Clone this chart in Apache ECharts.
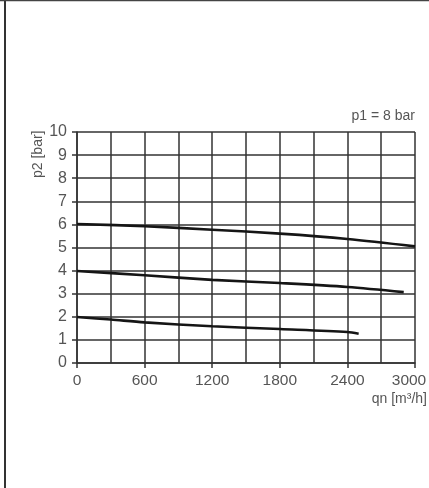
<!DOCTYPE html>
<html>
<head>
<meta charset="utf-8">
<script src="https://cdn.jsdelivr.net/npm/echarts@6/dist/echarts.min.js"></script>
<style>html,body{margin:0;padding:0;background:#fff;}#c{width:429px;height:488px;}</style>
</head>
<body>
<div id="c"></div>
<script>
var curve6 = [[0, 6.02], [600, 5.92], [1200, 5.77], [1800, 5.6], [2400, 5.37], [3000, 5.05]];
var curve4 = [[0, 3.98], [600, 3.8], [1200, 3.6], [1800, 3.46], [2400, 3.29], [2900, 3.07]];
var curve2 = [[0, 1.99], [300, 1.88], [600, 1.76], [1200, 1.59], [1800, 1.47], [2400, 1.34], [2500, 1.27]];
var xTickLabels = ['0', '600', '1200', '1800', '2400', '3000'];
var yTickLabels = ['0', '1', '2', '3', '4', '5', '6', '7', '8', '9', '10'];

var chart = echarts.init(document.getElementById('c'));
var lineStyle = {color: '#151515', width: 2.6};
function mk(d) {
  return {type: 'line', data: d, smooth: 0.3, symbol: 'none', lineStyle: lineStyle, silent: true};
}
chart.setOption({
  animation: false,
  backgroundColor: '#fff',
  grid: {left: 77, right: 14, top: 132, bottom: 125, containLabel: false, outerBoundsMode: 'none'},
  xAxis: {
    type: 'value', min: 0, max: 3000, interval: 600,
    axisLine: {show: true, lineStyle: {color: '#333', width: 1.5}},
    axisTick: {show: true, length: 5, lineStyle: {color: '#333', width: 1.5}},
    axisLabel: {color: '#555', fontSize: 15.5, fontFamily: 'Liberation Sans', margin: 10,
      formatter: function (v) {
        var i = Math.round(v / 600);
        return i === xTickLabels.length - 1 ? '{m|' + xTickLabels[i] + '}' : xTickLabels[i];
      },
      rich: {m: {color: '#555', fontSize: 15.5, fontFamily: 'Liberation Sans', padding: [0, 12, 0, 0]}}},
    splitLine: {show: true, lineStyle: {color: '#333', width: 1.5}},
    minorTick: {show: false, splitNumber: 2},
    minorSplitLine: {show: true, lineStyle: {color: '#333', width: 1.5}}
  },
  yAxis: {
    type: 'value', min: 0, max: 10, interval: 1,
    axisLine: {show: true, lineStyle: {color: '#333', width: 1.5}},
    axisTick: {show: true, length: 5, lineStyle: {color: '#333', width: 1.5}},
    axisLabel: {color: '#555', fontSize: 16, fontFamily: 'Liberation Sans', margin: 10,
      formatter: function (v) { return yTickLabels[Math.round(v)]; }},
    splitLine: {show: true, lineStyle: {color: '#333', width: 1.5}}
  },
  graphic: [
    {type: 'line', shape: {x1: 5, y1: 0, x2: 5, y2: 488}, style: {stroke: '#333', lineWidth: 2}},
    {type: 'line', shape: {x1: 0, y1: 0.5, x2: 429, y2: 0.5}, style: {stroke: '#444', lineWidth: 1.5}},
    {type: 'text', right: 14, top: 109, style: {text: 'p1 = 8 bar', fill: '#555', fontSize: 14, fontFamily: 'Liberation Sans'}},
    {type: 'text', right: 2, top: 392, style: {text: 'qn [m³/h]', fill: '#555', fontSize: 14, fontFamily: 'Liberation Sans'}},
    {type: 'text', x: 31, y: 178, rotation: Math.PI / 2, style: {text: 'p2 [bar]', fill: '#555', fontSize: 14, fontFamily: 'Liberation Sans', align: 'left', verticalAlign: 'top'}}
  ],
  series: [mk(curve6), mk(curve4), mk(curve2)]
});
</script>
</body>
</html>
